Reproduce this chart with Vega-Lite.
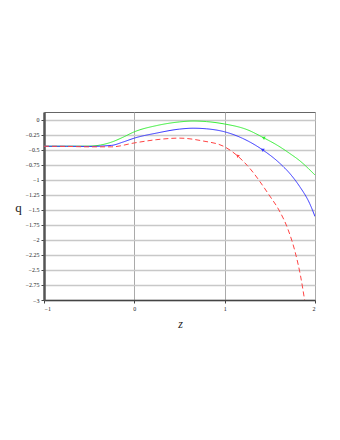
{
  "$schema": "https://vega.github.io/schema/vega-lite/v6.json",
  "autosize": {"type": "none"},
  "width": 271,
  "height": 188,
  "padding": {"left": 44, "top": 112, "right": 25, "bottom": 140},
  "background": "white",
  "config": {
    "view": {"stroke": "#666", "strokeWidth": 1},
    "axis": {"labelFont": "Liberation Serif", "titleFont": "Liberation Serif", "labelFontSize": 6, "labelColor": "#222", "tickColor": "#444", "tickSize": 3, "gridColor": "#c8c8c8", "gridWidth": 1.3}
  },
  "datasets": {
    "curves": [
      {"z": -1, "q": -0.44, "s": "g"}, {"z": -0.75, "q": -0.44, "s": "g"}, {"z": -0.5, "q": -0.438, "s": "g"}, {"z": -0.375, "q": -0.42, "s": "g"}, {"z": -0.25, "q": -0.37, "s": "g"}, {"z": -0.125, "q": -0.29, "s": "g"}, {"z": 0, "q": -0.2, "s": "g"}, {"z": 0.25, "q": -0.095, "s": "g"}, {"z": 0.5, "q": -0.035, "s": "g"}, {"z": 0.65, "q": -0.02, "s": "g"}, {"z": 0.8, "q": -0.03, "s": "g"}, {"z": 1, "q": -0.07, "s": "g"}, {"z": 1.25, "q": -0.165, "s": "g"}, {"z": 1.42, "q": -0.29, "s": "g"}, {"z": 1.6, "q": -0.44, "s": "g"}, {"z": 1.72, "q": -0.56, "s": "g"}, {"z": 1.83, "q": -0.68, "s": "g"}, {"z": 2, "q": -0.92, "s": "g"},
      {"z": -1, "q": -0.44, "s": "b"}, {"z": -0.75, "q": -0.44, "s": "b"}, {"z": -0.5, "q": -0.443, "s": "b"}, {"z": -0.25, "q": -0.425, "s": "b"}, {"z": -0.125, "q": -0.37, "s": "b"}, {"z": 0, "q": -0.305, "s": "b"}, {"z": 0.25, "q": -0.22, "s": "b"}, {"z": 0.5, "q": -0.155, "s": "b"}, {"z": 0.65, "q": -0.14, "s": "b"}, {"z": 0.8, "q": -0.15, "s": "b"}, {"z": 1, "q": -0.2, "s": "b"}, {"z": 1.2, "q": -0.31, "s": "b"}, {"z": 1.42, "q": -0.5, "s": "b"}, {"z": 1.607, "q": -0.72, "s": "b"}, {"z": 1.719, "q": -0.89, "s": "b"}, {"z": 1.83, "q": -1.11, "s": "b"}, {"z": 1.94, "q": -1.39, "s": "b"}, {"z": 2, "q": -1.61, "s": "b"},
      {"z": -1, "q": -0.44, "s": "r"}, {"z": -0.75, "q": -0.443, "s": "r"}, {"z": -0.5, "q": -0.45, "s": "r"}, {"z": -0.25, "q": -0.45, "s": "r"}, {"z": 0, "q": -0.385, "s": "r"}, {"z": 0.25, "q": -0.33, "s": "r"}, {"z": 0.5, "q": -0.305, "s": "r"}, {"z": 0.75, "q": -0.35, "s": "r"}, {"z": 1, "q": -0.45, "s": "r"}, {"z": 1.25, "q": -0.76, "s": "r"}, {"z": 1.5, "q": -1.27, "s": "r"}, {"z": 1.6, "q": -1.5, "s": "r"}, {"z": 1.7, "q": -1.82, "s": "r"}, {"z": 1.78, "q": -2.2, "s": "r"}, {"z": 1.84, "q": -2.6, "s": "r"}, {"z": 1.885, "q": -3, "s": "r"}
    ],
    "arrows": [
      {"z": 1.434, "q": -0.3, "s": "g", "a": 294},
      {"z": 1.423, "q": -0.5, "s": "b", "a": 300},
      {"z": 1.146, "q": -0.6, "s": "r", "a": 311}
    ]
  },
  "encoding": {
    "x": {"field": "z", "type": "quantitative", "scale": {"domain": [-1, 2], "nice": false, "zero": false},
      "axis": {"values": [-1, 0, 1, 2], "format": "d", "grid": true, "gridColor": "#aaa", "gridWidth": 1, "domainColor": "#444", "domainWidth": 1.5, "labelPadding": 2, "title": "z", "titleFontStyle": "italic", "titleFontWeight": "normal", "titleFontSize": 12, "titleX": 136, "titleY": 18, "titleColor": "#222"}},
    "y": {"field": "q", "type": "quantitative", "scale": {"domain": [-3, 0.13], "nice": false, "zero": false},
      "axis": {"values": [0, -0.25, -0.5, -0.75, -1, -1.25, -1.5, -1.75, -2, -2.25, -2.5, -2.75, -3], "format": ".2~f", "labelOverlap": false, "grid": true, "domainColor": "#555", "domainWidth": 2.5, "labelPadding": 2, "title": "q", "titleAngle": 0, "titleFontWeight": "normal", "titleFontSize": 13, "titleX": -26, "titleY": 102, "titleColor": "#222"}},
    "color": {"field": "s", "type": "nominal", "scale": {"domain": ["g", "b", "r"], "range": ["#33ee33", "#3333ff", "#ff4444"]}, "legend": null}
  },
  "layer": [
    {
      "data": {"name": "curves"},
      "mark": {"type": "line", "strokeWidth": 1, "clip": true, "interpolate": "monotone"},
      "encoding": {
        "strokeDash": {"field": "s", "type": "nominal", "scale": {"domain": ["g", "b", "r"], "range": [[1, 0], [1, 0], [5, 3]]}, "legend": null}
      }
    },
    {
      "data": {"name": "arrows"},
      "mark": {"type": "point", "shape": "triangle", "filled": true, "size": 14, "opacity": 1},
      "encoding": {
        "angle": {"field": "a", "type": "quantitative", "scale": null}
      }
    }
  ]
}
